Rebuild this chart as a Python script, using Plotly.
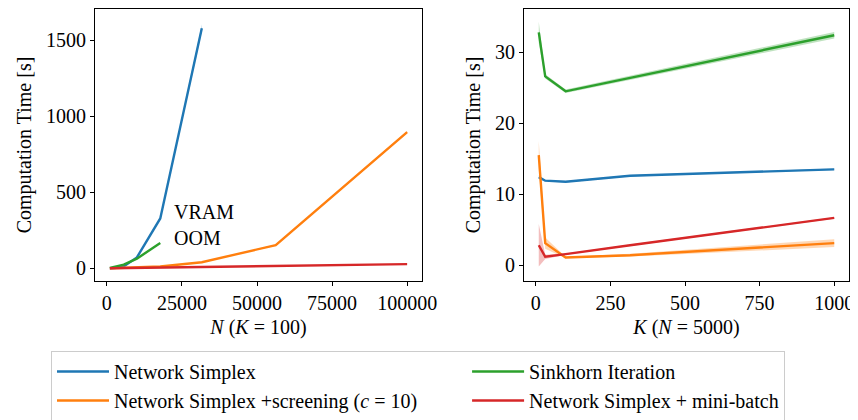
import plotly.graph_objects as go

# ---------------- data ----------------
N_vals = [1000, 1778, 3162, 5623, 10000, 17783, 31623, 56234, 100000]
left_ns = [0.3, 1, 3, 13, 72, 328, 1578]
left_ns_std = [0.05, 0.1, 0.3, 1, 3, 8, 25]
left_sink = [3, 6, 12, 24, 64, 166]
left_sink_std = [0.2, 0.3, 0.5, 1, 2, 3]
left_scr = [0.5, 1, 2, 4, 7, 12, 40, 153, 895]
left_scr_std = [0.05, 0.1, 0.2, 0.3, 0.5, 1, 2, 4, 8]
left_mb = [0.3, 0.5, 0.8, 1.4, 2.6, 4.8, 8.8, 15.5, 28]
left_mb_std = [0.05, 0.05, 0.1, 0.1, 0.2, 0.3, 0.4, 0.5, 0.8]

K_vals = [10, 31.6, 100, 316, 1000]
right_ns = [12.4, 11.9, 11.75, 12.6, 13.5]
right_ns_std = [0.25, 0.1, 0.1, 0.1, 0.1]
right_sink = [32.8, 26.6, 24.5, 26.4, 32.4]
right_sink_std = [1.5, 0.3, 0.25, 0.3, 0.45]
right_scr = [15.5, 3.1, 1.07, 1.4, 3.1]
right_scr_std = [2.0, 0.8, 0.1, 0.2, 0.55]
right_mb = [2.8, 1.17, 1.55, 2.8, 6.65]
right_mb_std = [3.0, 0.3, 0.1, 0.1, 0.1]

NBSP = "\u00a0"
names = ["Network Simplex", "Sinkhorn Iteration",
         "Network Simplex +screening (<i>c</i> = 10)" + NBSP * 9,
         "Network Simplex + mini-batch"]
colors = ["#1f77b4", "#2ca02c", "#ff7f0e", "#d62728"]
fills = ["rgba(31,119,180,0.3)", "rgba(44,160,44,0.3)",
         "rgba(255,127,14,0.3)", "rgba(214,39,40,0.3)"]

FONT = "Liberation Serif, Times New Roman, DejaVu Serif, serif"
fig = go.Figure()

left = [(left_ns, left_ns_std), (left_sink, left_sink_std),
        (left_scr, left_scr_std), (left_mb, left_mb_std)]
right = [(right_ns, right_ns_std), (right_sink, right_sink_std),
         (right_scr, right_scr_std), (right_mb, right_mb_std)]


def add_band(x, y, s, color, xa, ya):
    lo = [a - b for a, b in zip(y, s)]
    hi = [a + b for a, b in zip(y, s)]
    fig.add_trace(go.Scatter(x=list(x) + list(x)[::-1], y=hi + lo[::-1],
                             fill="toself", fillcolor=color, line=dict(width=0),
                             mode="lines", showlegend=False, hoverinfo="skip",
                             xaxis=xa, yaxis=ya))


for i, (y, s) in enumerate(left):
    add_band(N_vals[:len(y)], y, s, fills[i], "x", "y")
for i, (y, s) in enumerate(right):
    add_band(K_vals, y, s, fills[i], "x2", "y2")

draw_order = [0, 2, 1, 3]
for i in draw_order:
    y, _ = left[i]
    fig.add_trace(go.Scatter(x=N_vals[:len(y)], y=y, mode="lines",
                             line=dict(color=colors[i], width=2.4),
                             showlegend=False, xaxis="x", yaxis="y"))
for i in draw_order:
    y, _ = right[i]
    fig.add_trace(go.Scatter(x=K_vals, y=y, mode="lines",
                             line=dict(color=colors[i], width=2.4),
                             showlegend=False, xaxis="x2", yaxis="y2"))
for i in range(4):
    fig.add_trace(go.Scatter(x=[None], y=[None], mode="lines", name=names[i],
                             line=dict(color=colors[i], width=2.4),
                             showlegend=True, xaxis="x", yaxis="y"))

fig.add_annotation(x=21800, y=282, xref="x", yref="y", text="VRAM<br>OOM",
                   showarrow=False, xanchor="left", yanchor="middle", align="left",
                   font=dict(family=FONT, size=20, color="black"))

# page body has an 8px margin, so layout coords = screen coords - 8
W, H = 850, 412
axis_common = dict(showline=True, linecolor="black", linewidth=1.2, mirror=True,
                   ticks="outside", ticklen=4, tickwidth=1.1, tickcolor="black",
                   showgrid=False, zeroline=False, automargin=False,
                   tickfont=dict(family=FONT, size=20, color="black"))

ydom = [(H - 273) / H, (H - 1) / H]
fig.update_layout(
    width=W, height=H, margin=dict(l=0, r=0, t=0, b=0, autoexpand=False),
    paper_bgcolor="white", plot_bgcolor="white",
    font=dict(family=FONT, size=20, color="black"),
    xaxis=dict(domain=[87 / W, 414 / W], range=[-3950, 104950],
               tickvals=[0, 25000, 50000, 75000, 100000],
               ticktext=["0", "25000", "50000", "75000", "100000"],
               title=dict(text="<i>N</i> (<i>K</i> = 100)", standoff=6,
                          font=dict(family=FONT, size=20)),
               anchor="y", **axis_common),
    yaxis=dict(domain=ydom, range=[-83, 1704],
               tickvals=[0, 500, 1000, 1500],
               title=dict(text="Computation Time [s]", standoff=8,
                          font=dict(family=FONT, size=20)),
               anchor="x", **axis_common),
    xaxis2=dict(domain=[516 / W, 841 / W], range=[-39.5, 1049.5],
                tickvals=[0, 250, 500, 750, 1000],
                title=dict(text="<i>K</i> (<i>N</i> = 5000)", standoff=6,
                           font=dict(family=FONT, size=20)),
                anchor="y2", **axis_common),
    yaxis2=dict(domain=ydom, range=[-2.24, 36.1],
                tickvals=[0, 10, 20, 30],
                title=dict(text="Computation Time [s]", standoff=8,
                           font=dict(family=FONT, size=20)),
                anchor="x2", **axis_common),
    legend=dict(orientation="h", x=43 / W, xanchor="left", y=(H - 343) / H,
                yanchor="top", bordercolor="#cccccc", borderwidth=1,
                bgcolor="white", itemwidth=52,
                font=dict(family=FONT, size=20, color="black"),
                tracegroupgap=0),
)

fig.write_html("out.html")
